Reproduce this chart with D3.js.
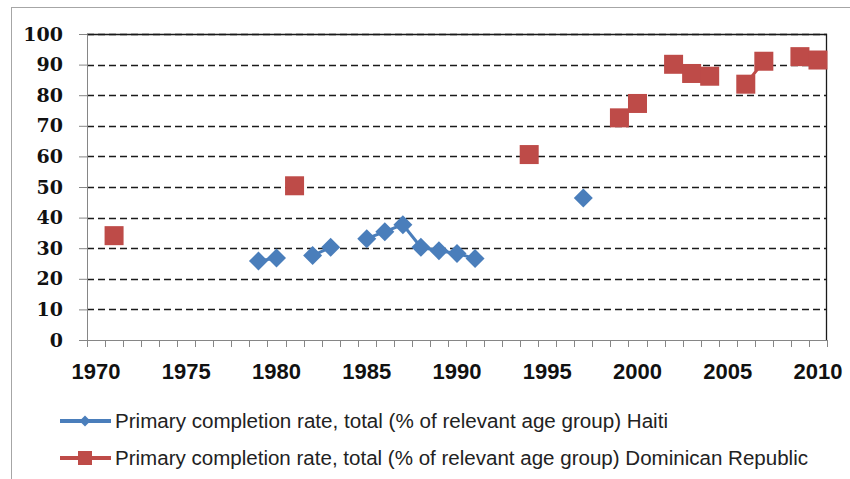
<!DOCTYPE html>
<html>
<head>
<meta charset="utf-8">
<script src="https://cdn.jsdelivr.net/npm/d3@7"></script>
<style>
  html, body { margin: 0; padding: 0; background: #fff; }
  svg { display: block; }
  .ylab { font-family: "DejaVu Serif", "Liberation Serif", serif; font-size: 19px; font-weight: bold; }
</style>
</head>
<body>
<div id="chart"></div>
<script>
// Primary completion rate, total (% of relevant age group)
const firstYear = 1970;
const lastYear = 2010;
const yTicks = [0, 10, 20, 30, 40, 50, 60, 70, 80, 90, 100];
const xLabelYears = [1970, 1975, 1980, 1985, 1990, 1995, 2000, 2005, 2010];

const haitiYears = [1979, 1980, 1982, 1983, 1985, 1986, 1987, 1988, 1989, 1990, 1991, 1997];
const haitiValues = [25.8, 26.8, 27.6, 30.3, 33.1, 35.4, 37.7, 30.3, 29.2, 28.3, 26.6, 46.4];

const drYears = [1971, 1981, 1994, 1999, 2000, 2002, 2003, 2004, 2006, 2007, 2009, 2010];
const drValues = [34.1, 50.4, 60.6, 72.6, 77.3, 90.1, 87.1, 86.2, 83.6, 91.1, 92.6, 91.5];

const legendLabels = [
  'Primary completion rate, total (% of relevant age group) Haiti',
  'Primary completion rate, total (% of relevant age group) Dominican Republic'
];

const W = 850, H = 479;
const margin = { top: 34, right: 23, bottom: 139, left: 87 };
const innerW = W - margin.left - margin.right;
const innerH = H - margin.top - margin.bottom;

const blue = '#4A7EBB';
const red = '#BE4B48';

const years = d3.range(firstYear, lastYear + 1);

// full category series with gaps for missing years
function fullSeries(ys, vs) {
  const m = new Map(ys.map((y, i) => [y, vs[i]]));
  return years.map(y => ({ year: y, value: m.has(y) ? m.get(y) : null }));
}

const svg = d3.select('#chart').append('svg')
  .attr('width', W)
  .attr('height', H);

// chart outer border
svg.append('rect')
  .attr('x', 11.5).attr('y', 7.5)
  .attr('width', W).attr('height', H)
  .attr('fill', '#fff')
  .attr('stroke', '#a6a6a6');

const g = svg.append('g')
  .attr('transform', `translate(${margin.left},${margin.top})`);

const x = d3.scaleBand()
  .domain(years)
  .range([0, innerW]);

const y = d3.scaleLinear()
  .domain([0, 100])
  .range([innerH, 0]);

// gridlines
g.append('g')
  .selectAll('line')
  .data(yTicks.filter(t => t > 0))
  .join('line')
  .attr('x1', 0).attr('x2', innerW)
  .attr('y1', d => Math.round(y(d)) + 0.5)
  .attr('y2', d => Math.round(y(d)) + 0.5)
  .attr('stroke', '#1a1a1a')
  .attr('stroke-width', 1.3)
  .attr('stroke-dasharray', '7,4');

// plot area border (top / right)
g.append('path')
  .attr('d', `M0,0.5H${innerW - 0.5}V${innerH}`)
  .attr('fill', 'none')
  .attr('stroke', '#1a1a1a')
  .attr('stroke-width', 1.3);

// y axis
const yAxis = g.append('g')
  .call(d3.axisLeft(y).tickValues(yTicks).tickSize(8).tickPadding(16))
  .call(s => s.select('.domain').attr('stroke', '#868686'))
  .call(s => s.selectAll('.tick line').attr('stroke', '#868686'));
yAxis.attr('font-family', null).attr('font-size', null);
yAxis.selectAll('text')
  .attr('class', 'ylab')
  .attr('fill', '#111');

// x axis: ticks at category boundaries
const xAxis = g.append('g')
  .attr('transform', `translate(0,${innerH})`);
xAxis.append('line')
  .attr('x1', -8).attr('x2', innerW)
  .attr('y1', 0.5).attr('y2', 0.5)
  .attr('stroke', '#868686');
xAxis.selectAll('.xtick')
  .data(years.concat([lastYear + 1]))
  .join('line')
  .attr('class', 'xtick')
  .attr('x1', (d, i) => Math.round(i === years.length ? innerW : x(d)) + 0.5)
  .attr('x2', (d, i) => Math.round(i === years.length ? innerW : x(d)) + 0.5)
  .attr('y1', 0).attr('y2', 7)
  .attr('stroke', '#868686');
xAxis.selectAll('.xlabel')
  .data(xLabelYears)
  .join('text')
  .attr('class', 'xlabel')
  .attr('x', d => x(d) + x.bandwidth() / 2)
  .attr('y', 39)
  .attr('text-anchor', 'middle')
  .attr('fill', '#111')
  .style('font-family', '"Liberation Sans", Arial, sans-serif')
  .style('font-size', '22px')
  .style('font-weight', 'bold')
  .text(d => d);

// series
const cx = d => x(d.year) + x.bandwidth() / 2;
const line = d3.line()
  .defined(d => d.value !== null)
  .x(cx)
  .y(d => y(d.value));

const haiti = fullSeries(haitiYears, haitiValues);
const dr = fullSeries(drYears, drValues);

g.append('path')
  .datum(haiti)
  .attr('d', line)
  .attr('fill', 'none')
  .attr('stroke', blue)
  .attr('stroke-width', 3);

g.append('path')
  .datum(dr)
  .attr('d', line)
  .attr('fill', 'none')
  .attr('stroke', red)
  .attr('stroke-width', 3);

const diamond = 'M0,-9.5L9.5,0L0,9.5L-9.5,0Z';

g.append('g')
  .selectAll('path')
  .data(haiti.filter(d => d.value !== null))
  .join('path')
  .attr('transform', d => `translate(${cx(d)},${y(d.value)})`)
  .attr('d', diamond)
  .attr('fill', blue);

g.append('g')
  .selectAll('rect')
  .data(dr.filter(d => d.value !== null))
  .join('rect')
  .attr('x', d => cx(d) - 9.5)
  .attr('y', d => y(d.value) - 9.5)
  .attr('width', 19)
  .attr('height', 19)
  .attr('fill', red);

// legend
const legend = svg.append('g');
const legendRows = [
  { label: legendLabels[0], color: blue, marker: 'diamond', y: 421, len: 553 },
  { label: legendLabels[1], color: red, marker: 'square', y: 458, len: 693 }
];
legendRows.forEach(r => {
  const row = legend.append('g').attr('transform', `translate(0,${r.y})`);
  row.append('line')
    .attr('x1', 60).attr('x2', 111)
    .attr('y1', 0).attr('y2', 0)
    .attr('stroke', r.color)
    .attr('stroke-width', 4);
  if (r.marker === 'diamond') {
    row.append('path')
      .attr('transform', 'translate(85,0)')
      .attr('d', 'M0,-5.5L5.5,0L0,5.5L-5.5,0Z')
      .attr('fill', r.color);
  } else {
    row.append('rect')
      .attr('x', 78).attr('y', -7)
      .attr('width', 14).attr('height', 14)
      .attr('fill', r.color);
  }
  row.append('text')
    .attr('x', 115)
    .attr('y', 0)
    .attr('dy', '0.35em')
    .attr('fill', '#222')
    .attr('textLength', r.len)
    .attr('lengthAdjust', 'spacingAndGlyphs')
    .style('font-family', '"Liberation Sans", Arial, sans-serif')
    .style('font-size', '20px')
    .text(r.label);
});
</script>
</body>
</html>
